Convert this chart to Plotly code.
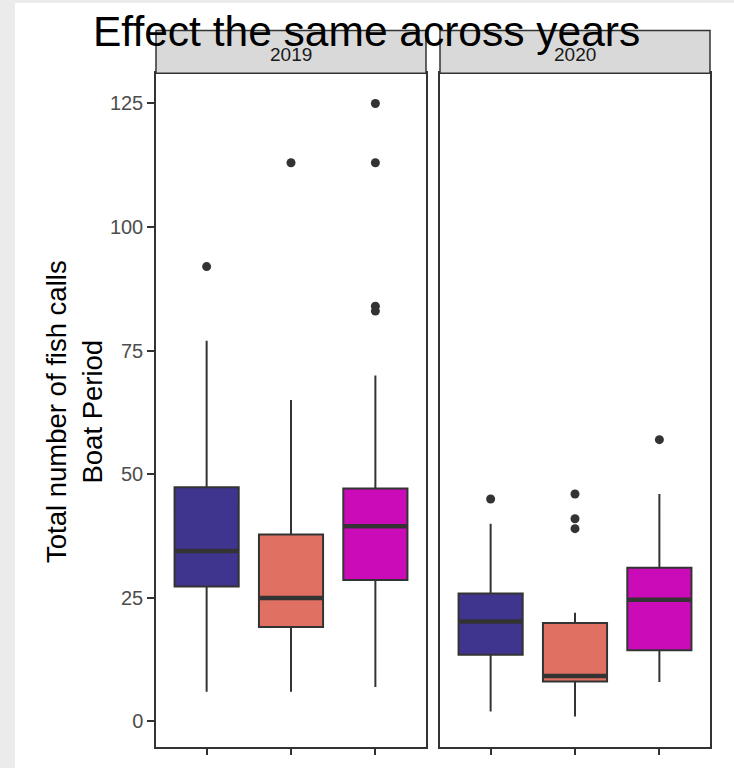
import plotly.graph_objects as go

# ---------------- data ----------------
years = ["2019", "2020"]
groups = ["A", "B", "C"]
colors = ["#3F358F", "#E07062", "#CC0BB8"]

# per year: values for groups A, B, C
q1_2019 = [27.3, 19.1, 28.6]
med_2019 = [34.5, 25.0, 39.5]
q3_2019 = [47.4, 37.8, 47.1]
lo_2019 = [6, 6, 7]
hi_2019 = [77, 65, 70]
out_2019 = [[92], [113], [125, 113, 84, 83]]

q1_2020 = [13.5, 8.1, 14.4]
med_2020 = [20.2, 9.2, 24.6]
q3_2020 = [25.9, 19.9, 31.1]
lo_2020 = [2, 1, 8]
hi_2020 = [40, 22, 46]
out_2020 = [[45], [46, 41, 39], [57]]

y_ticks = [0, 25, 50, 75, 100, 125]

stats = {
    "2019": (q1_2019, med_2019, q3_2019, lo_2019, hi_2019, out_2019),
    "2020": (q1_2020, med_2020, q3_2020, lo_2020, hi_2020, out_2020),
}

# ---------------- layout helpers ----------------
W, H = 734, 768
def px(x):
    return x / W
def py(y):
    return 1 - y / H

BOXW = 0.76
LINE = "#333333"

fig = go.Figure()
for k, yr in enumerate(years):
    xa = "x" if k == 0 else "x2"
    ya = "y" if k == 0 else "y2"
    q1, med, q3, lo, hi, outs = stats[yr]
    for i, g in enumerate(groups):
        pos = i + 1
        fig.add_trace(go.Box(
            x=[pos], q1=[q1[i]], median=[med[i]], q3=[q3[i]],
            lowerfence=[lo[i]], upperfence=[hi[i]],
            width=BOXW, whiskerwidth=0, boxpoints=False,
            fillcolor=colors[i], line=dict(color=LINE, width=2),
            xaxis=xa, yaxis=ya, showlegend=False, hoverinfo="skip",
        ))
        # thicker median line (ggplot fatten)
        fig.add_trace(go.Scatter(
            x=[pos - BOXW / 2 + 0.01, pos + BOXW / 2 - 0.01], y=[med[i], med[i]],
            mode="lines", line=dict(color=LINE, width=4.5),
            xaxis=xa, yaxis=ya, showlegend=False, hoverinfo="skip",
        ))
        fig.add_trace(go.Scatter(
            x=[pos] * len(outs[i]), y=outs[i], mode="markers",
            marker=dict(color=LINE, size=9),
            xaxis=xa, yaxis=ya, showlegend=False, hoverinfo="skip",
        ))

ydom = [py(746.7), py(73.3)]
yrange = [-5.1, 131.1]
axis_common = dict(showline=True, mirror=True, linecolor=LINE, linewidth=1.5,
                   showgrid=False, zeroline=False, ticks="outside", ticklen=7,
                   tickwidth=1.5, tickcolor=LINE)

fig.update_layout(
    width=W, height=H,
    margin=dict(l=0, r=0, t=0, b=0),
    paper_bgcolor="white", plot_bgcolor="white",
    font=dict(family="Liberation Sans, Arial", color="#4D4D4D"),
    xaxis=dict(domain=[px(156), px(426)], range=[0.4, 3.6], tickvals=[1, 2, 3],
               ticktext=["", "", ""], anchor="y", **axis_common),
    xaxis2=dict(domain=[px(440), px(710)], range=[0.4, 3.6], tickvals=[1, 2, 3],
                ticktext=["", "", ""], anchor="y2", **axis_common),
    yaxis=dict(domain=ydom, range=yrange, tickvals=y_ticks,
               ticktext=[str(t) for t in y_ticks], anchor="x",
               tickfont=dict(size=20, color="#4D4D4D"), **axis_common),
    yaxis2=dict(domain=ydom, range=yrange, tickvals=y_ticks,
                showticklabels=False, anchor="x2", matches="y",
                **{**axis_common, "ticks": ""}),
)

shapes = [
    dict(type="rect", xref="paper", yref="paper", x0=0, x1=px(15), y0=0, y1=1,
         fillcolor="#EBEBEB", line=dict(width=0), layer="below"),
    dict(type="rect", xref="paper", yref="paper", x0=0, x1=1, y0=py(3), y1=1,
         fillcolor="#EBEBEB", line=dict(width=0), layer="below"),
]
annotations = []
for k, (x0, x1) in enumerate([(156, 426), (440, 710)]):
    shapes.append(dict(type="rect", xref="paper", yref="paper",
                       x0=px(x0), x1=px(x1), y0=py(73.3), y1=py(30.5),
                       fillcolor="#D9D9D9", line=dict(color=LINE, width=1.5)))
    annotations.append(dict(xref="paper", yref="paper", x=px((x0 + x1) / 2),
                            y=py(54), text=years[k], showarrow=False,
                            xanchor="center", yanchor="middle",
                            font=dict(size=19, color="#1A1A1A")))

annotations.append(dict(xref="paper", yref="paper", x=px(74), y=py(412),
                        text="Total number of fish calls<br>Boat Period",
                        textangle=-90, showarrow=False, xanchor="center",
                        yanchor="middle", font=dict(size=27.5, color="black")))
annotations.append(dict(xref="paper", yref="paper", x=px(366), y=py(32),
                        text="Effect the same across years", showarrow=False,
                        xanchor="center", yanchor="middle",
                        font=dict(size=42.5, color="black")))

fig.update_layout(shapes=shapes, annotations=annotations)
fig.write_html("out.html", config={"displayModeBar": False},
               post_script="document.body.style.margin='0';document.body.style.overflow='hidden';")
